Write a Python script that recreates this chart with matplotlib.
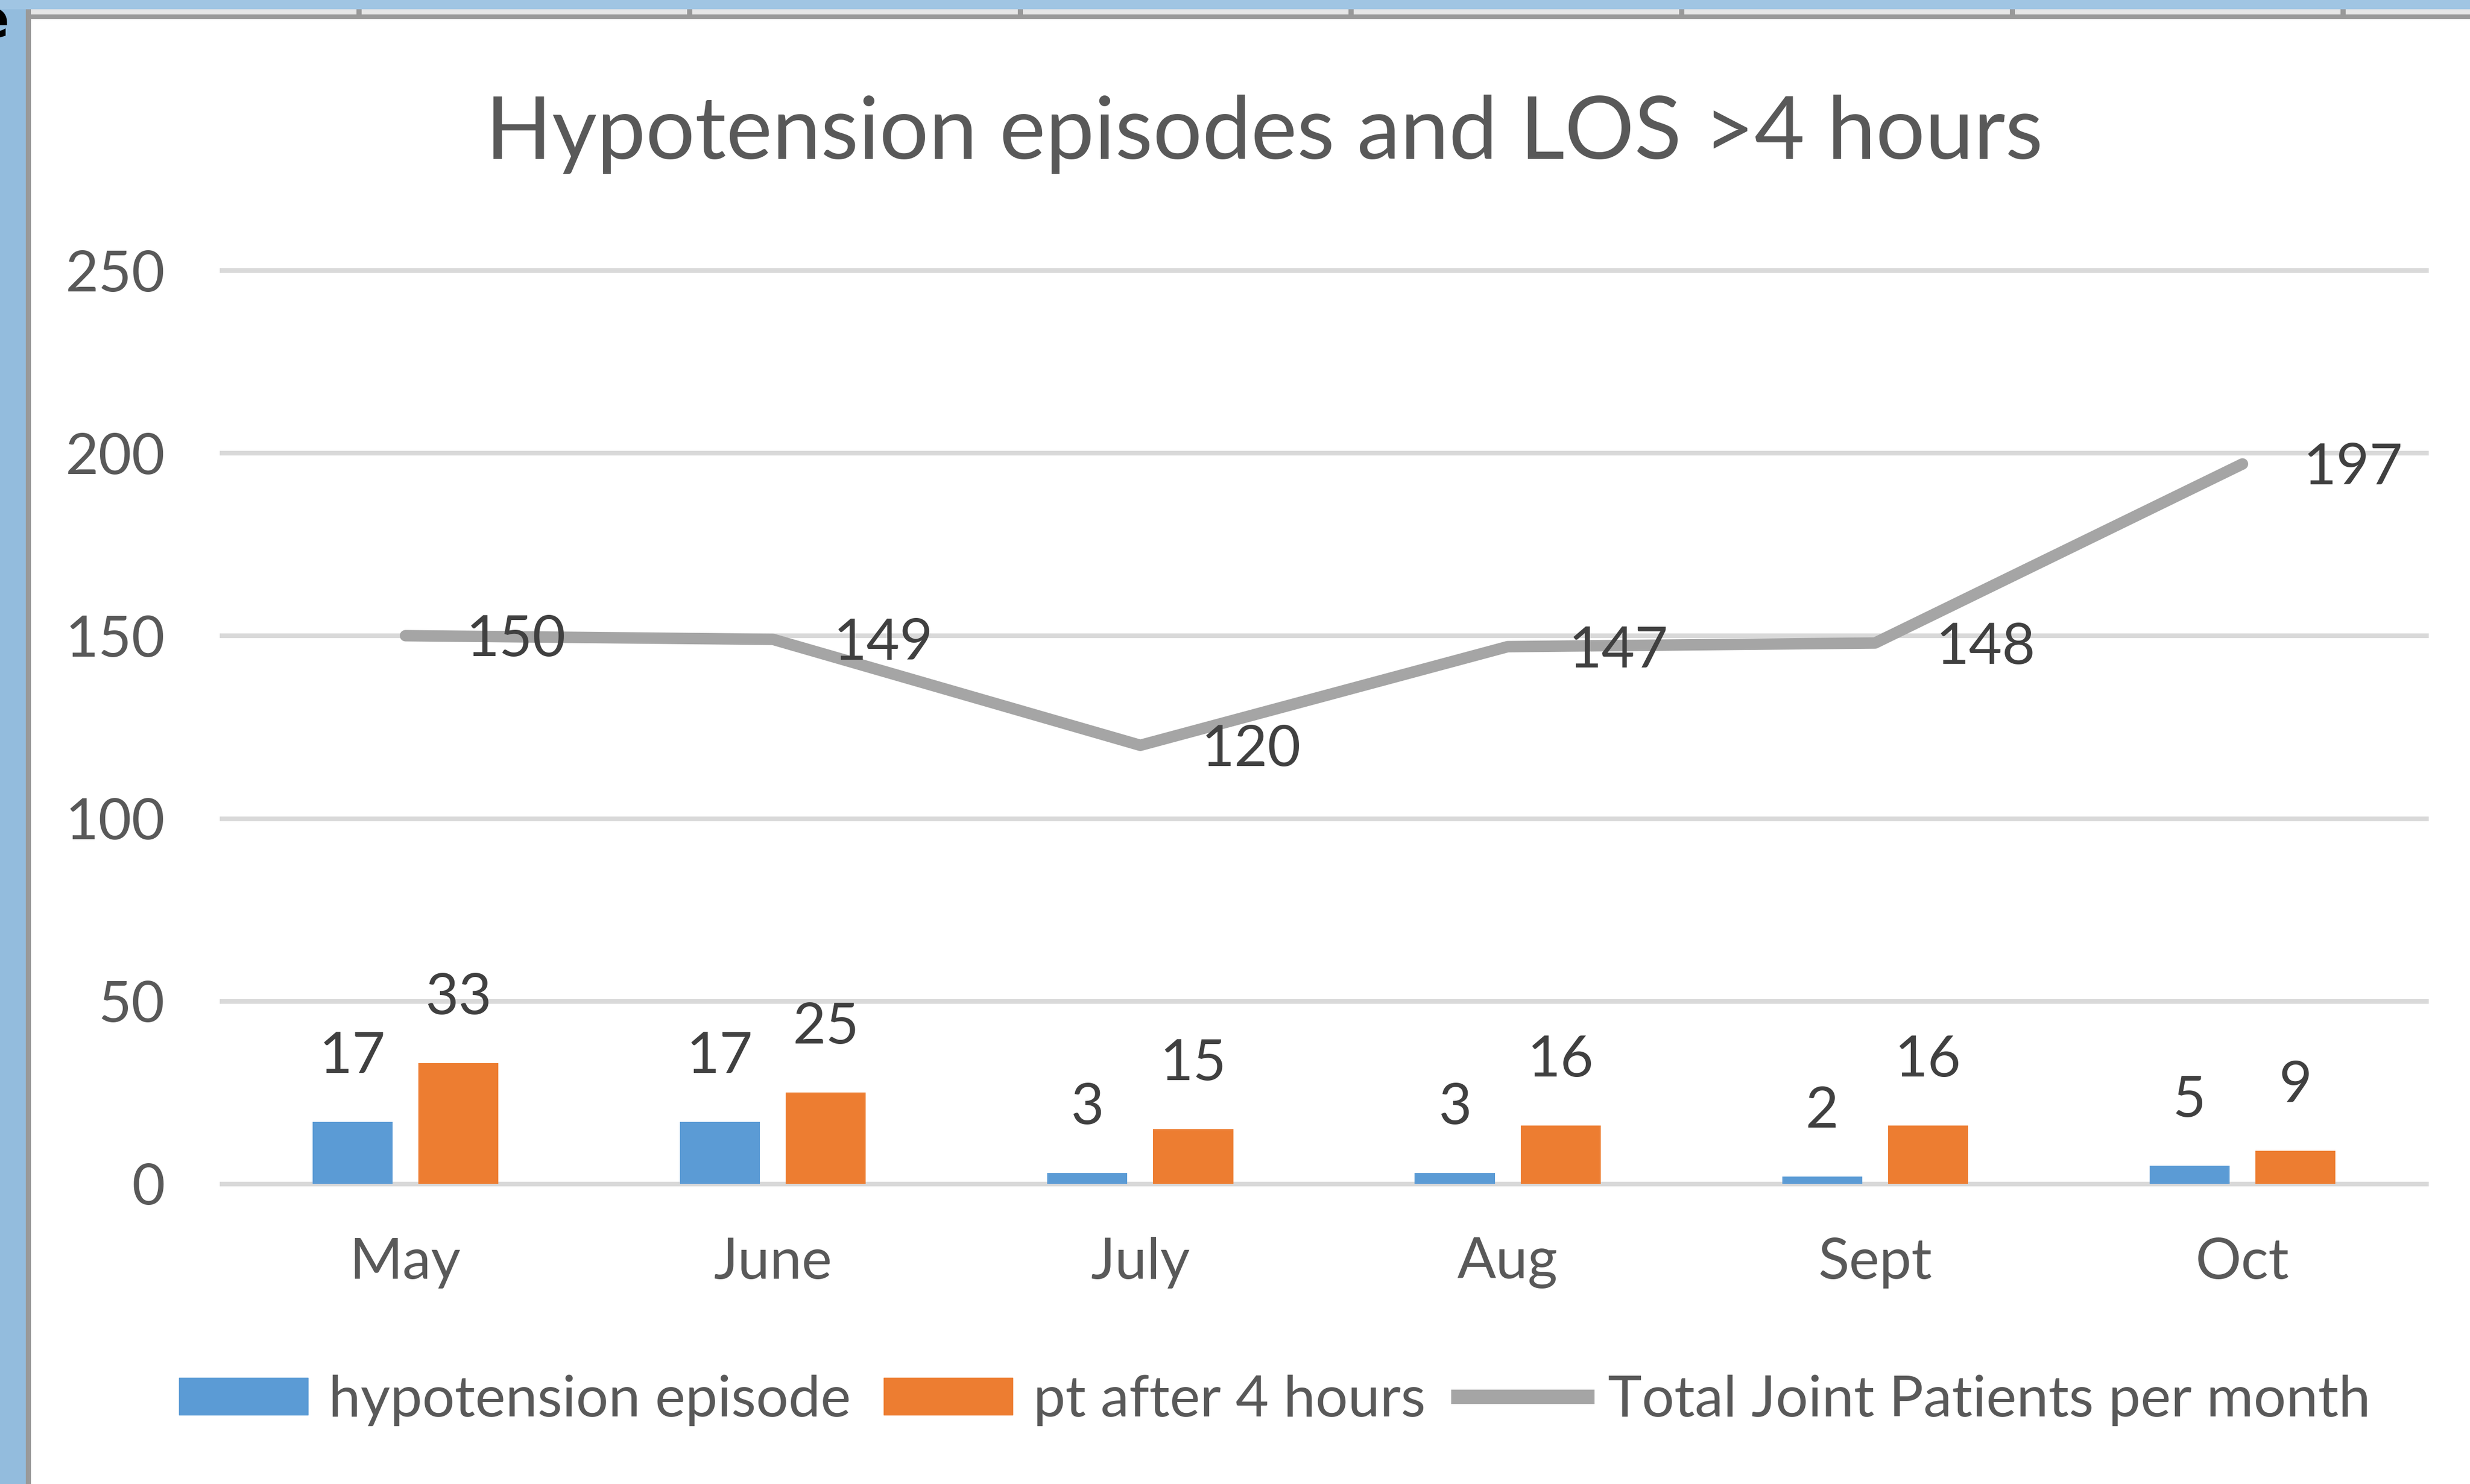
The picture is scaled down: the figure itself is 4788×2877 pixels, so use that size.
import numpy as np
import matplotlib
matplotlib.use("Agg")
from matplotlib import pyplot as plt
from matplotlib.patches import Rectangle, Patch
from matplotlib.lines import Line2D

# data
months = ["May", "June", "July", "Aug", "Sept", "Oct"]
hypotension = [17, 17, 3, 3, 2, 5]
pt_after_4h = [33, 25, 15, 16, 16, 9]
total_joint = [150, 149, 120, 147, 148, 197]
y_ticks = [0, 50, 100, 150, 200, 250]

W, H = 4788, 2877
DPI = 100
BLUE = "#5B9BD5"
ORANGE = "#ED7D31"
GREY = "#A5A5A5"
TXT = "#595959"
LBL = "#404040"

plt.rcParams["font.family"] = ["Lato", "DejaVu Sans"]

fig = plt.figure(figsize=(W / DPI, H / DPI), dpi=DPI)
fig.patch.set_facecolor("white")


def px_rect(x0, y0, x1, y1, color):
    # rectangle in pixel coords, y measured from the top
    fig.patches.append(Rectangle((x0 / W, 1 - y1 / H), (x1 - x0) / W, (y1 - y0) / H,
                                 transform=fig.transFigure, color=color, lw=0, zorder=0))


# slide background / sheet frame around the chart
px_rect(0, 0, 50, H, "#93BCDD")
px_rect(0, 0, W, 18, "#A0C5E3")
px_rect(60, 18, W, 28, "#E6E6E6")
for cx in range(696, W, 641):
    px_rect(cx - 5, 18, cx + 5, 28, "#999999")
px_rect(50, 28, W, 37, "#999999")
px_rect(50, 18, 60, H, "#999999")
fig.text(18 / W, 1 - 44 / H, "e", ha="right", va="center", fontsize=75,
         fontweight="bold", color="black", family="DejaVu Sans")

# plot area
ax = fig.add_axes([430 / W, 1 - 2295 / H, (4703 - 430) / W, (2295 - 524) / H])
ax.set_facecolor("none")
for s in ax.spines.values():
    s.set_visible(False)

x = np.arange(len(months))
bw = 0.218
off = 0.144

for v in y_ticks:
    ax.axhline(v, color="#D9D9D9", lw=6.5, zorder=0, clip_on=False)

b1 = ax.bar(x - off, hypotension, bw, color=BLUE, zorder=2)
b2 = ax.bar(x + off, pt_after_4h, bw, color=ORANGE, zorder=2)
ln, = ax.plot(x, total_joint, color=GREY, lw=16, solid_capstyle="round",
              solid_joinstyle="round", zorder=3)

for xi, v in zip(x, hypotension):
    ax.annotate(str(v), (xi - off, v), xytext=(0, 95), textcoords="offset pixels",
                ha="center", va="baseline", fontsize=80, color=LBL, zorder=4)
for xi, v in zip(x, pt_after_4h):
    ax.annotate(str(v), (xi + off, v), xytext=(0, 95), textcoords="offset pixels",
                ha="center", va="baseline", fontsize=80, color=LBL, zorder=4)
for xi, v in zip(x, total_joint):
    ax.annotate(str(v), (xi, v), xytext=(118, -40), textcoords="offset pixels",
                ha="left", va="baseline", fontsize=80, color=LBL, zorder=4)

ax.set_xlim(-0.5, len(months) - 0.5)
ax.set_ylim(0, 250)
ax.set_yticks(y_ticks)
ax.set_xticks(x)
ax.set_xticklabels(months)
ax.tick_params(axis="y", length=0, pad=79, labelsize=80, labelcolor=TXT)
ax.tick_params(axis="x", length=0, pad=74, labelsize=80, labelcolor=TXT)

fig.text(2451 / W, 1 - 308 / H, "Hypotension episodes and LOS >4 hours",
         ha="center", va="baseline", fontsize=121.5, color=TXT)

handles = [Patch(color=BLUE), Patch(color=ORANGE),
           Line2D([0], [0], color=GREY, lw=20)]
labels = ["hypotension episode", "pt after 4 hours", "Total Joint Patients per month"]
fig.legend(handles, labels, loc="center", bbox_to_anchor=(2471 / W, 1 - 2715 / H),
           ncol=3, frameon=False, fontsize=80, labelcolor=TXT,
           handlelength=2.25, handleheight=0.63, handletextpad=0.36,
           columnspacing=0.57)

fig.savefig("out.png", dpi=DPI)
